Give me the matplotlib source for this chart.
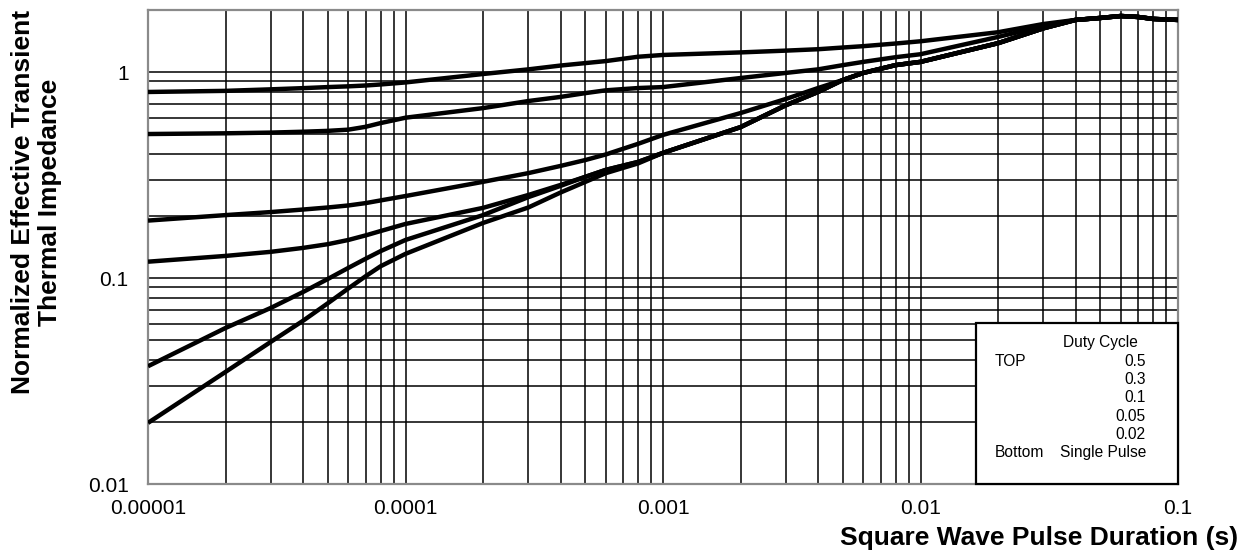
import matplotlib.pyplot as plt
from matplotlib.patches import Rectangle
from matplotlib.ticker import FixedLocator, LogLocator, NullFormatter

plt.rcParams['font.family'] = ['Liberation Sans', 'DejaVu Sans']

# pulse duration (s)
pulse = [1e-5, 2e-5, 3e-5, 4e-5, 5e-5, 6e-5, 7e-5, 8e-5, 1e-4,
         2e-4, 3e-4, 4e-4, 5e-4, 6e-4, 8e-4, 1e-3,
         2e-3, 3e-3, 4e-3, 5e-3, 6e-3, 8e-3, 1e-2,
         2e-2, 3e-2, 4e-2, 5e-2, 6e-2, 7e-2, 8e-2, 1e-1]

# normalized transient thermal impedance, one list per duty cycle
z_d50 = [0.80, 0.81, 0.824, 0.835, 0.845, 0.852, 0.86, 0.87, 0.89,
         0.978, 1.03, 1.075, 1.105, 1.13, 1.186, 1.21,
         1.245, 1.27, 1.29, 1.315, 1.335, 1.375, 1.41,
         1.56, 1.71, 1.79, 1.83, 1.87, 1.85, 1.81, 1.79]
z_d30 = [0.50, 0.504, 0.508, 0.513, 0.518, 0.525, 0.542, 0.565, 0.60,
         0.668, 0.723, 0.757, 0.79, 0.815, 0.836, 0.845,
         0.935, 0.99, 1.03, 1.08, 1.12, 1.18, 1.22,
         1.48, 1.67, 1.79, 1.83, 1.87, 1.85, 1.81, 1.79]
z_d10 = [0.19, 0.202, 0.209, 0.215, 0.22, 0.225, 0.231, 0.238, 0.25,
         0.293, 0.323, 0.35, 0.374, 0.398, 0.448, 0.495,
         0.632, 0.74, 0.836, 0.915, 0.99, 1.08, 1.12,
         1.38, 1.63, 1.79, 1.83, 1.87, 1.85, 1.81, 1.79]
z_d05 = [0.12, 0.128, 0.134, 0.14, 0.146, 0.153, 0.161, 0.169, 0.183,
         0.219, 0.253, 0.283, 0.31, 0.335, 0.366, 0.405,
         0.54, 0.69, 0.80, 0.915, 0.99, 1.08, 1.12,
         1.38, 1.63, 1.79, 1.83, 1.87, 1.85, 1.81, 1.79]
z_d02 = [0.0373, 0.0572, 0.0716, 0.0855, 0.099, 0.112, 0.124, 0.135, 0.153,
         0.202, 0.247, 0.28, 0.31, 0.335, 0.366, 0.405,
         0.54, 0.69, 0.80, 0.915, 0.99, 1.08, 1.12,
         1.38, 1.63, 1.79, 1.83, 1.87, 1.85, 1.81, 1.79]
z_single = [0.0198, 0.035, 0.049, 0.062, 0.0755, 0.089, 0.102, 0.114, 0.131,
            0.185, 0.22, 0.26, 0.293, 0.323, 0.36, 0.405,
            0.54, 0.69, 0.80, 0.915, 0.99, 1.08, 1.12,
            1.38, 1.63, 1.79, 1.83, 1.87, 1.85, 1.81, 1.79]

curves = [z_d50, z_d30, z_d10, z_d05, z_d02, z_single]
duty_labels = ['0.5', '0.3', '0.1', '0.05', '0.02']

x_ticks = [1e-5, 1e-4, 1e-3, 1e-2, 1e-1]
x_tick_labels = ['0.00001', '0.0001', '0.001', '0.01', '0.1']
y_ticks = [0.01, 0.1, 1]
y_tick_labels = ['0.01', '0.1', '1']

fig = plt.figure(figsize=(12.56, 5.57), dpi=100)
ax = fig.add_axes([148 / 1256, 73 / 557, 1030 / 1256, 474 / 557])

for z in curves:
    ax.plot(pulse, z, color='black', linewidth=3.2, solid_capstyle='butt',
            solid_joinstyle='round', zorder=3)

ax.set_xscale('log')
ax.set_yscale('log')
ax.set_xlim(1e-5, 1e-1)
ax.set_ylim(0.01, 2)

ax.xaxis.set_major_locator(FixedLocator(x_ticks))
ax.set_xticklabels(x_tick_labels)
ax.yaxis.set_major_locator(FixedLocator(y_ticks))
ax.set_yticklabels(y_tick_labels)
for axis in (ax.xaxis, ax.yaxis):
    axis.set_minor_locator(LogLocator(base=10, subs=range(2, 10), numticks=20))
    axis.set_minor_formatter(NullFormatter())

ax.tick_params(which='both', length=0)
ax.tick_params(axis='x', labelsize=15, pad=11)
ax.tick_params(axis='y', labelsize=15, pad=14)

ax.grid(True, which='both', color='black', linewidth=1.1)
ax.set_axisbelow(True)
for sp in ax.spines.values():
    sp.set_color('#8a8a8a')
    sp.set_linewidth(1.6)

ax.set_xlabel('Square Wave Pulse Duration (s)', fontsize=19, fontweight='bold',
              ha='center', va='center')
ax.xaxis.set_label_coords(0.865, -0.114)
ax.set_ylabel('Normalized Effective Transient\nThermal Impedance', fontsize=19,
              fontweight='bold', ha='center', va='center', linespacing=1.15)
ax.yaxis.set_label_coords(-0.108, 0.595)

# duty cycle key in the lower right corner
box_left = (976 - 148) / 1030
box_top = (484 - 323) / 474
ax.add_patch(Rectangle((box_left, 0), 1 - box_left, box_top, transform=ax.transAxes,
                       facecolor='white', edgecolor='black', linewidth=1.6, zorder=5,
                       clip_on=False))

row_step = 18.3 / 474
row0 = (484 - 343) / 474
col_left = (995 - 148) / 1030
col_mid = (1063 - 148) / 1030
col_right = (1146 - 148) / 1030
fs = 11.2
ax.text(col_mid, row0, 'Duty Cycle', transform=ax.transAxes, fontsize=fs,
        ha='left', va='center', zorder=6)
ax.text(col_left, row0 - row_step, 'TOP', transform=ax.transAxes, fontsize=fs,
        ha='left', va='center', zorder=6)
for i, lab in enumerate(duty_labels):
    ax.text(col_right, row0 - (i + 1) * row_step, lab, transform=ax.transAxes,
            fontsize=fs, ha='right', va='center', zorder=6)
ax.text(col_left, row0 - 6 * row_step, 'Bottom', transform=ax.transAxes, fontsize=fs,
        ha='left', va='center', zorder=6)
ax.text((1060 - 148) / 1030, row0 - 6 * row_step, 'Single Pulse', transform=ax.transAxes,
        fontsize=fs, ha='left', va='center', zorder=6)

fig.savefig('out.png', dpi=100)
